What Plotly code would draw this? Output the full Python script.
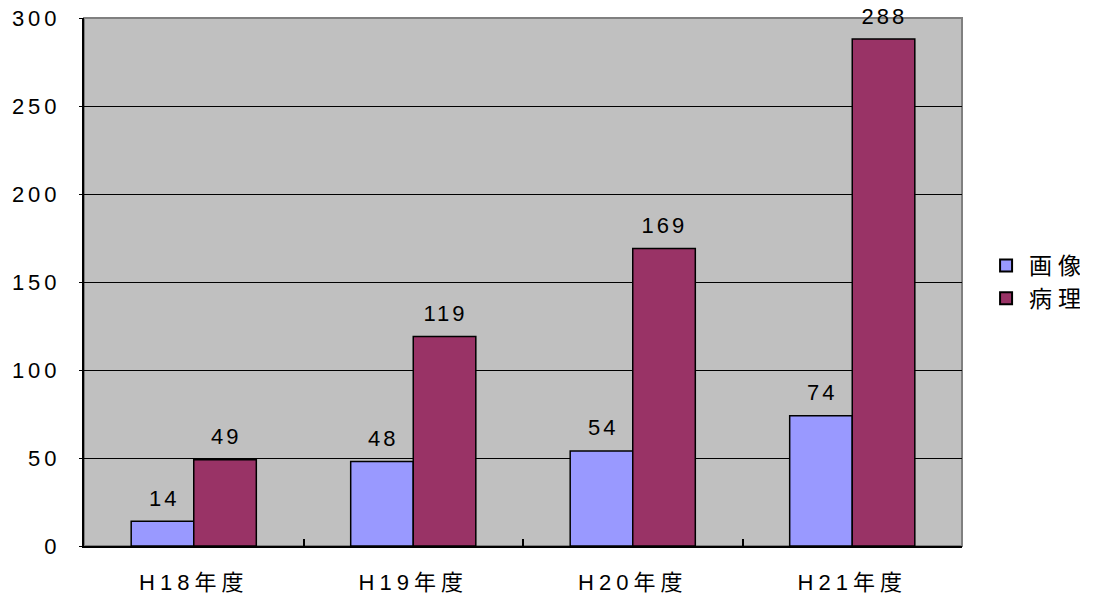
import plotly.graph_objects as go

categories = ["H18年度", "H19年度", "H20年度", "H21年度"]
gazou = [14, 48, 54, 74]
byouri = [49, 119, 169, 288]
series_names = ["画像", "病理"]
colors = ["#9999FF", "#993366"]
yticks = [0, 50, 100, 150, 200, 250, 300]

FONT = "Liberation Sans, Noto Sans CJK JP, sans-serif"

fig = go.Figure()
for name, vals, col in zip(series_names, [gazou, byouri], colors):
    fig.add_trace(go.Bar(
        x=categories, y=vals, name=name,
        marker=dict(color=col, line=dict(color="black", width=1.5)),
    ))

ann = []
for vals, shift in [(gazou, -31), (byouri, 31)]:
    for c, v in zip(categories, vals):
        ann.append(dict(x=c, y=v, text=str(v), showarrow=False, xref="x", yref="y",
                        xshift=shift + 1, yshift=23, font=dict(size=22, color="black", family=FONT)))

fig.update_layout(
    width=1093, height=594,
    margin=dict(l=84, r=131, t=18, b=48, autoexpand=False),
    paper_bgcolor="white", plot_bgcolor="#C0C0C0",
    barmode="group", bargap=0.43, bargroupgap=0,
    font=dict(family=FONT, size=20, color="black"),
    showlegend=True,
    legend=dict(x=1.024, y=0.5, xanchor="left", yanchor="middle",
                font=dict(size=23, family=FONT), bgcolor="rgba(0,0,0,0)",
                itemsizing="constant", tracegroupgap=0, itemwidth=36),
    annotations=ann,
    xaxis=dict(showline=True, linecolor="black", linewidth=2, ticks="inside",
               tickson="boundaries", ticklen=7, tickcolor="black", tickwidth=1.5,
               showgrid=False, tickfont=dict(size=22), automargin=False,
               ticklabelstandoff=16),
    yaxis=dict(range=[0, 300], tickvals=yticks, showline=True, linecolor="black",
               linewidth=2, showgrid=True, gridcolor="black", gridwidth=1,
               zeroline=False, ticks="outside", ticklen=3, tickcolor="black",
               tickfont=dict(size=22), ticklabelstandoff=14, automargin=False,
               ticklabeloverflow="allow"),
    shapes=[dict(type="rect", xref="paper", yref="paper", x0=0, x1=1, y0=0, y1=1,
                 line=dict(color="#808080", width=2), layer="below")],
)

post = """
document.body.style.margin = '0';
document.body.style.overflow = 'hidden';
var gd = document.getElementById('{plot_id}');
function sp(sel, v){ gd.querySelectorAll(sel).forEach(function(t){ t.style.letterSpacing = v; }); }
sp('.xtick text', '5px');
sp('.legendtext', '6px');
sp('.ytick text', '4px');
sp('.annotation-text', '3px');
"""
fig.write_html("out.html", post_script=post, config={"displayModeBar": False})
